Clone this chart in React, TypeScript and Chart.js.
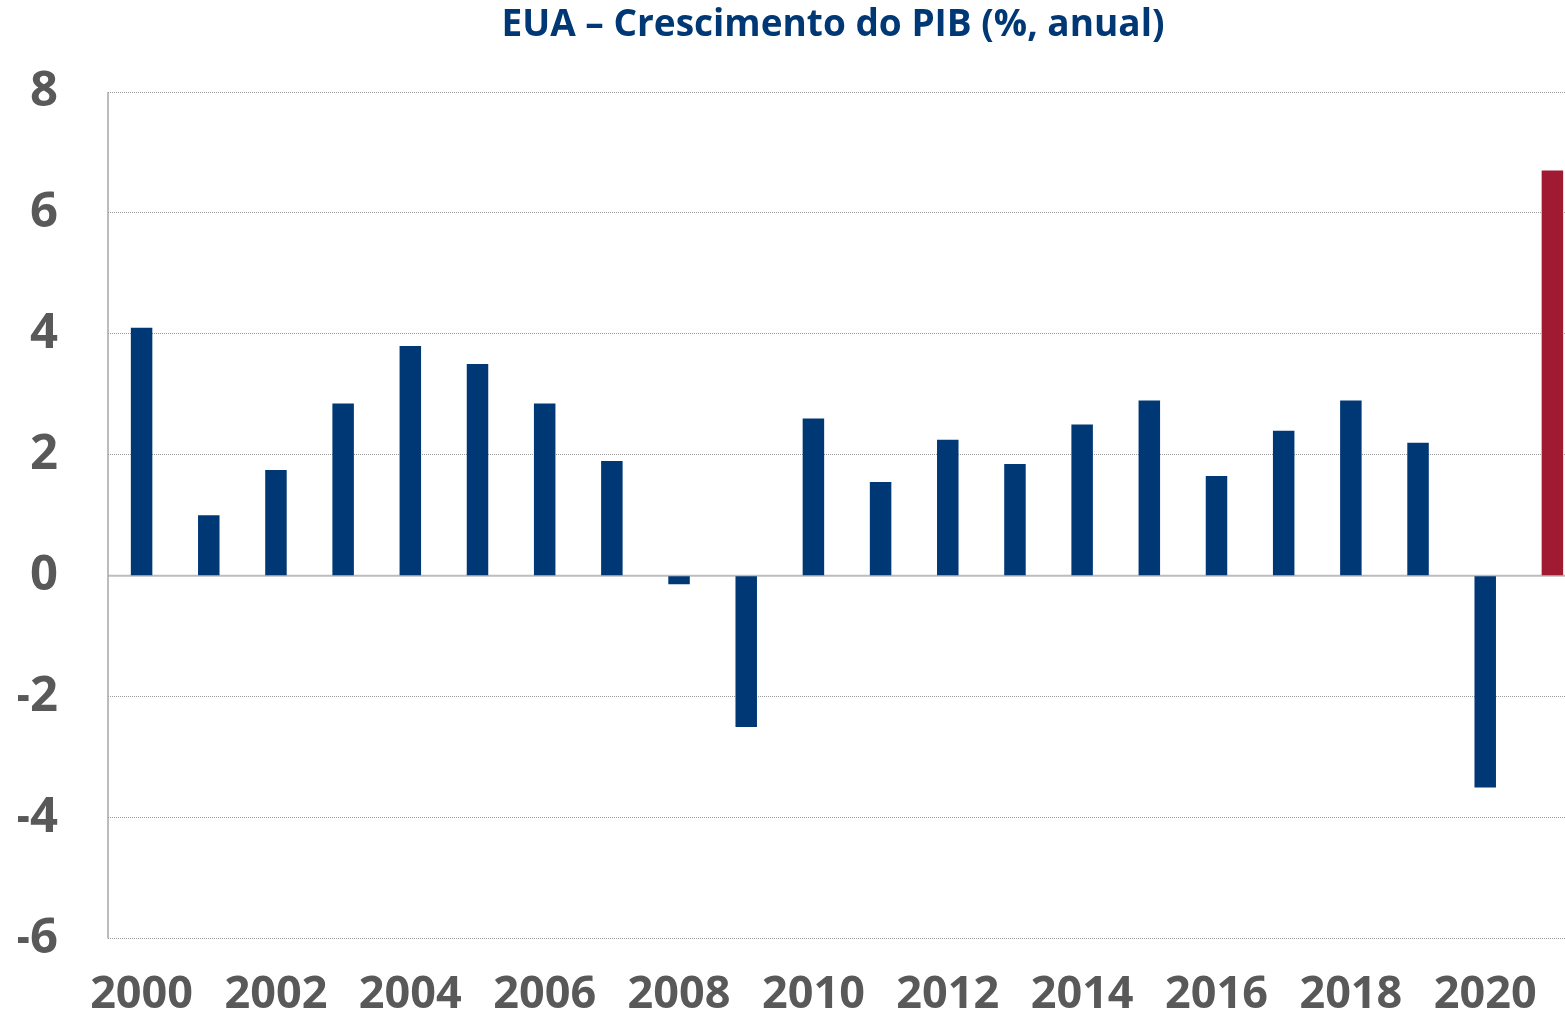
import React, { useEffect, useRef } from "react";
import { Chart, registerables } from "chart.js";

Chart.register(...registerables);

const years = [
  "2000", "2001", "2002", "2003", "2004", "2005", "2006", "2007", "2008", "2009", "2010",
  "2011", "2012", "2013", "2014", "2015", "2016", "2017", "2018", "2019", "2020", "2021",
];
const gdpGrowth = [
  4.1, 1.0, 1.75, 2.85, 3.8, 3.5, 2.85, 1.9, -0.14, -2.5, 2.6,
  1.55, 2.25, 1.85, 2.5, 2.9, 1.65, 2.4, 2.9, 2.2, -3.5, 6.7,
];
const yTicks = [-6, -4, -2, 0, 2, 4, 6, 8];
const titleText = "EUA – Crescimento do PIB (%, anual)";

const BLUE = "#003876";
const RED = "#A01A32";
const GRAY = "#595959";

export default function App() {
  const ref = useRef<HTMLCanvasElement | null>(null);

  useEffect(() => {
    if (!ref.current) return;
    const lastIdx = years.length - 1;
    const linesPlugin = {
      id: "lines",
      beforeDatasetsDraw(chart: any) {
        const { ctx, chartArea, scales } = chart;
        const y0 = scales.y.getPixelForValue(0);
        ctx.save();
        ctx.strokeStyle = "#bdbdbd";
        ctx.lineWidth = 2;
        ctx.beginPath();
        ctx.moveTo(chartArea.left, y0);
        ctx.lineTo(chartArea.right, y0);
        ctx.stroke();
        ctx.strokeStyle = "#a6a6a6";
        ctx.lineWidth = 1.5;
        ctx.beginPath();
        ctx.moveTo(chartArea.left, chartArea.top);
        ctx.lineTo(chartArea.left, chartArea.bottom);
        ctx.stroke();
        ctx.restore();
      },
      afterDraw(chart: any) {
        const { ctx } = chart;
        ctx.save();
        ctx.fillStyle = BLUE;
        ctx.font = "bold 37px 'Open Sans'";
        ctx.textAlign = "center";
        ctx.textBaseline = "middle";
        ctx.fillText(titleText, 833, 25);
        ctx.restore();
      },
    };
    const chart = new Chart(ref.current, {
      type: "bar",
      data: {
        labels: years,
        datasets: [
          {
            data: gdpGrowth,
            backgroundColor: years.map((_, i) => (i === lastIdx ? RED : BLUE)),
            barPercentage: 0.32,
            categoryPercentage: 1,
          },
        ],
      },
      options: {
        animation: false,
        responsive: false,
        maintainAspectRatio: false,
        layout: { padding: { top: 92, left: 18, right: 14, bottom: 0 } },
        plugins: { legend: { display: false }, tooltip: { enabled: false }, title: { display: false } },
        scales: {
          x: {
            grid: { display: false },
            border: { display: false },
            afterFit: (axis: any) => {
              axis.height = 76;
            },
            ticks: {
              autoSkip: false,
              maxRotation: 0,
              color: GRAY,
              padding: 22,
              font: { family: "'Open Sans'", size: 45, weight: "bold" },
              callback: (_v: any, i: number) => (i % 2 === 0 ? years[i] : ""),
            },
          },
          y: {
            min: -6,
            max: 8,
            afterBuildTicks: (axis: any) => {
              axis.ticks = yTicks.map((v) => ({ value: v }));
            },
            afterFit: (axis: any) => {
              axis.width = 90;
            },
            grid: { color: "#9a9a9a", lineWidth: 1, drawTicks: false },
            border: { display: false, dash: [1, 1] },
            ticks: {
              color: GRAY,
              padding: 50,
              font: { family: "'Open Sans'", size: 49, weight: "bold" },
            },
          },
        },
      },
      plugins: [linesPlugin],
    });
    return () => chart.destroy();
  }, []);

  return (
    <div style={{ position: "fixed", left: 0, top: 0, width: 1565, height: 1014, overflow: "hidden", background: "#fff" }}>
      <canvas ref={ref} width={1600} height={1018} style={{ width: 1600, height: 1018, display: "block" }} />
    </div>
  );
}
